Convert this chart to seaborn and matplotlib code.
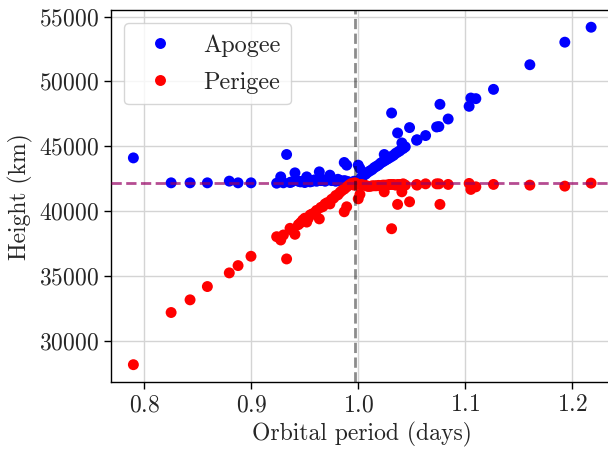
import numpy as np
import pandas as pd
import matplotlib
matplotlib.use("Agg")
import matplotlib.pyplot as plt
import seaborn as sns

# ---- data ----
period_days = [
    0.7897, 0.825, 0.8427, 0.8589, 0.8794, 0.8876, 0.8997,
    0.9237, 0.9275, 0.9300, 0.9330, 0.9362, 0.9377, 0.9408,
    0.944, 0.946, 0.948, 0.950, 0.9518, 0.9533, 0.955, 0.957, 0.959, 0.961,
    0.9636, 0.965, 0.967, 0.969, 0.971, 0.9735, 0.975, 0.977, 0.979, 0.981,
    0.983, 0.9869, 0.985, 0.9892, 0.987, 0.989, 0.991, 0.993, 0.995, 0.996,
    0.997, 0.9972, 0.9974, 0.998, 0.9985,
    1.000, 1.0016, 1.003, 1.005, 1.007, 1.009, 1.011, 1.013, 1.015, 1.017,
    1.019, 1.021, 1.023, 1.0243, 1.025, 1.027, 1.029, 1.031, 1.0312, 1.033,
    1.035, 1.0368, 1.037, 1.039, 1.0408, 1.042, 1.044, 1.048,
    1.0546, 1.0550, 1.063, 1.0733, 1.0754, 1.0764, 1.0841,
    1.1037, 1.1053, 1.1100, 1.1265, 1.1605, 1.1932, 1.2178,
]
apogee_km = [
    44100, 42177, 42177, 42177, 42308, 42177, 42177,
    42150, 42638, 42180, 44362, 42200, 42250, 42946,
    42300, 42250, 42300, 42200, 42638, 42350, 42250, 42300, 42400, 42300,
    43023, 42350, 42400, 42300, 42450, 42769, 42350, 42400, 42300, 42450,
    42350, 43746, 42300, 43538, 42350, 42300, 42250, 42200, 42180, 42300,
    42164, 42170, 42200, 42250, 42300,
    43538, 43285, 42600, 42750, 42850, 43000, 43100, 43200, 43350, 43450,
    43550, 43700, 43800, 44361, 43900, 44000, 44100, 44200, 47562, 44300,
    44450, 46023, 44550, 44650, 45254, 44823, 44950, 46438,
    45462, 45500, 45823, 46485, 46515, 48231, 47100,
    48077, 48715, 48669, 49385, 51285, 53023, 54177,
]
perigee_km = [
    28154, 32177, 33154, 34179, 35231, 35795, 36513,
    38023, 37769, 38154, 36308, 38669, 38538, 38208,
    38950, 39100, 39300, 39450, 39150, 39438, 39700, 39780, 39850, 40050,
    39397, 40280, 40350, 40550, 40650, 40550, 40900, 41000, 41200, 41250,
    41450, 39946, 41600, 40330, 41700, 41850, 41980, 42100, 42150, 42000,
    42164, 42160, 42130, 42100, 42050,
    40944, 41287, 42050, 42000, 41980, 41900, 41900, 41950, 41950, 41950,
    41980, 41950, 42000, 41485, 42000, 42000, 42050, 42050, 38638, 42050,
    42000, 40515, 42050, 42050, 41485, 42100, 42000, 40715,
    42050, 42000, 42100, 42100, 42100, 40515, 42054,
    42131, 41669, 41869, 42054, 42000, 41923, 42154,
]
series_names = ["Apogee", "Perigee"]
series_colors = ["blue", "red"]
geo_radius_km = 42164
sidereal_day = 0.99727
x_ticks = [0.8, 0.9, 1.0, 1.1, 1.2]
y_ticks = [30000, 35000, 40000, 45000, 50000, 55000]

df = pd.concat([
    pd.DataFrame({"period": period_days, "height": apogee_km, "kind": series_names[0]}),
    pd.DataFrame({"period": period_days, "height": perigee_km, "kind": series_names[1]}),
], ignore_index=True)

sns.set_style("ticks")
plt.rcParams["font.family"] = ["cmr10", "DejaVu Sans"]
plt.rcParams["mathtext.fontset"] = "cm"
plt.rcParams["axes.formatter.use_mathtext"] = True
plt.rcParams["font.size"] = 17
plt.rcParams["axes.unicode_minus"] = False

fig = plt.figure(figsize=(6.08, 4.49), dpi=100)
ax = fig.add_axes([110.5 / 608, (449 - 382.3) / 449, (614 - 110.5) / 608, (382.3 - 10) / 449])

sns.scatterplot(data=df, x="period", y="height", hue="kind",
                palette=dict(zip(series_names, series_colors)),
                s=62, linewidth=0, ax=ax, zorder=3)

ax.axhline(geo_radius_km, color="#960064", alpha=0.7, ls="--", lw=2, zorder=4)
ax.axvline(sidereal_day, color="k", alpha=0.45, ls="--", lw=2, zorder=4)

ax.set_xticks(x_ticks)
ax.set_yticks(y_ticks)
ax.set_xlim(0.7683, 1.2392)
ax.set_ylim(26795, 55505)
ax.grid(True, color="#d4d4d4", lw=1, zorder=0)
ax.set_axisbelow(True)
for sp in ax.spines.values():
    sp.set_color("black")
    sp.set_linewidth(1)
ax.tick_params(labelsize=17, length=5, width=1, color="black", direction="out")
ax.set_xlabel("Orbital period (days)", fontsize=17)
ax.set_ylabel("Height (km)", fontsize=17)

handles, labels = ax.get_legend_handles_labels()
leg = ax.legend(handles, labels, loc="upper left", fontsize=17.5, title=None,
                frameon=True, fancybox=True, framealpha=0.8, edgecolor="#cccccc",
                handlelength=2.1, handletextpad=0.7, labelspacing=0.6,
                borderpad=0.45, borderaxespad=0.55)

fig.savefig("out.png", dpi=100)
